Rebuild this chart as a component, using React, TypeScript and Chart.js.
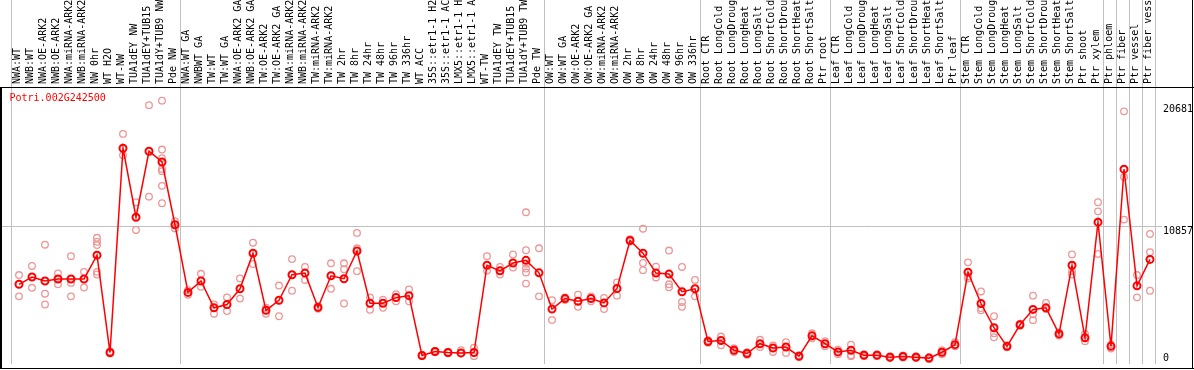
import React, { useEffect, useRef } from 'react';
import { Chart, registerables } from 'chart.js';

Chart.register(...registerables);

const GENE_ID = 'Potri.002G242500';

const categories: string[] = [
  'NWA:WT', 'NWB:WT', 'NWA:OE-ARK2', 'NWB:OE-ARK2', 'NWA:miRNA-ARK2', 'NWB:miRNA-ARK2', 'NW 0hr', 'WT H2O', 'WT-NW',
  'TUA1dEY NW', 'TUA1dEY+TUB15', 'TUA1dY+TUB9 NW', 'Pde NW',
  'NWA:WT GA', 'NWBWT GA', 'TW:WT', 'TW:WT GA', 'NWA:OE-ARK2 GA', 'NWB:OE-ARK2 GA', 'TW:OE-ARK2', 'TW:OE-ARK2 GA',
  'NWA:miRNA-ARK2', 'NWB:miRNA-ARK2', 'TW:miRNA-ARK2', 'TW:miRNA-ARK2', 'TW 2hr', 'TW 8hr', 'TW 24hr', 'TW 48hr',
  'TW 96hr', 'TW 336hr', 'WT ACC', '35S::etr1-1 H2', '35S::etr1-1 AC', 'LMX5::etr1-1 H', 'LMX5::etr1-1 A', 'WT-TW',
  'TUA1dEY TW', 'TUA1dEY+TUB15', 'TUA1dY+TUB9 TW', 'Pde TW',
  'OW:WT', 'OW:WT GA', 'OW:OE-ARK2', 'OW:OE-ARK2 GA', 'OW:miRNA-ARK2', 'OW:miRNA-ARK2', 'OW 2hr', 'OW 8hr', 'OW 24hr',
  'OW 48hr', 'OW 96hr', 'OW 336hr',
  'Root CTR', 'Root LongCold', 'Root LongDroug', 'Root LongHeat', 'Root LongSalt', 'Root ShortCold', 'Root ShortDrou',
  'Root ShortHeat', 'Root ShortSalt', 'Ptr root',
  'Leaf CTR', 'Leaf LongCold', 'Leaf LongDroug', 'Leaf LongHeat', 'Leaf LongSalt', 'Leaf ShortCold', 'Leaf ShortDrou',
  'Leaf ShortHeat', 'Leaf ShortSalt', 'Ptr leaf',
  'Stem CTR', 'Stem LongCold', 'Stem LongDroug', 'Stem LongHeat', 'Stem LongSalt', 'Stem ShortCold', 'Stem ShortDrou',
  'Stem ShortHeat', 'Stem ShortSalt', 'Ptr shoot', 'Ptr xylem', 'Ptr phloem', 'Ptr fiber', 'Ptr vessel', 'Ptr fiber vess',
];

const meanValues: number[] = [
  6260, 6830, 6522, 6676, 6676, 6676, 8547, 901, 16940, 11527, 16709, 15862, 10934,
  5621, 6522, 4412, 4674, 5906, 8701, 4212, 5005, 7007, 7138, 4443, 6930, 6699, 8878, 4774, 4774, 5213, 5367,
  670, 978, 901, 870, 901, 7754, 7315, 7931, 8139, 7161,
  4312, 5136, 4928, 5136, 4797, 5929, 9702, 8701, 7138, 7061, 5675, 5906,
  1771, 1848, 1078, 824, 1594, 1255, 1332, 616, 2210, 1594,
  947, 1078, 693, 693, 539, 593, 539, 462, 924, 1517,
  7215, 4751, 2849, 1386, 3080, 4289, 4412, 2364, 7754, 2056, 11142, 1386, 15300, 6137, 8216,
];

const replicateValues: number[][] = [
  [6984, 5313], [7700, 5983], [9371, 5521, 4674], [7107, 6260], [8470, 6368, 5313], [7238, 6006],
  [9910, 9602, 9340, 7238, 7030], [978, 824], [18072, 16401], [12705, 10526], [20328, 13144],
  [20681, 16840, 16170, 15323, 15146, 13991, 12628], [11219, 10649],
  [5798, 5444], [7084, 6060], [4674, 3950], [5236, 4158], [6722, 5136], [9525, 7854], [4412, 3950], [6160, 3750],
  [8239, 5752], [7623, 6599], [4543, 4335], [7908, 5906], [7908, 7446, 4751], [10295, 9086, 7292], [5236, 4258],
  [5059, 4412], [5490, 4928], [5852, 4928], [716, 616], [1024, 932], [947, 847], [1078, 824], [1286, 616],
  [8470, 7338], [7623, 7030], [8601, 7569], [11912, 8932, 7877, 7492, 7184, 6314], [9086, 5313],
  [5005, 3465], [5236, 5028], [5444, 4489], [5313, 4928], [5182, 4312], [6414, 5367], [9802, 9625],
  [10626, 7931, 7369], [7646, 6799], [8909, 6260, 6029], [7623, 4874, 4489], [6599, 5313],
  [1871, 1671], [2156, 1463], [1232, 947], [924, 724], [1902, 1332], [1463, 947], [1717, 870], [693, 539],
  [2410, 2025], [1794, 1394],
  [1132, 762], [1517, 693, 616], [770, 616], [770, 616], [616, 462], [670, 516], [616, 462], [539, 385],
  [1078, 770], [1717, 1386],
  [7985, 6876, 6722], [5698, 4389, 4212], [3750, 2410, 2102], [1463, 1309], [3157, 3003], [5367, 3904, 3442],
  [4797, 4312], [2487, 2233], [8601, 7292, 7030], [2364, 1794], [12705, 11989, 8647], [1540, 1209],
  [19843, 14684, 11342], [6984, 5236], [10218, 8778, 5752],
];

const yTickValues: number[] = [0, 10857, 20681];
const separatorIndices: number[] = [0, 13, 41, 53, 63, 73, 84, 85, 86, 87, 88];

const FONT = '10px "DejaVu Sans Mono", monospace';

const decorPlugin = {
  id: 'decor',
  beforeDatasetsDraw(chart: any) {
    const { ctx, chartArea } = chart;
    const xs = chart.scales.x;
    const ys = chart.scales.y;
    const p0 = xs.getPixelForValue(0);
    const w = xs.getPixelForValue(1) - p0;
    ctx.save();
    ctx.strokeStyle = '#c0c0c0';
    ctx.lineWidth = 1;
    ctx.beginPath();
    separatorIndices.forEach((i) => {
      const px = Math.round(p0 + (i - 0.5) * w - 1.5) + 0.5;
      ctx.moveTo(px, 0);
      ctx.lineTo(px, chartArea.bottom);
    });
    const my = Math.round(ys.getPixelForValue(yTickValues[1])) + 0.5;
    ctx.moveTo(0, my);
    ctx.lineTo(1162, my);
    ctx.stroke();
    ctx.restore();
  },
  afterDraw(chart: any) {
    const { ctx, chartArea, width } = chart;
    const xs = chart.scales.x;
    const ys = chart.scales.y;
    ctx.save();
    // frame
    ctx.fillStyle = '#000';
    ctx.fillRect(0, 87, width, 1);
    ctx.fillRect(0, 368, width, 1);
    ctx.fillRect(0, 87, 2, 282);
    ctx.fillRect(1192, 0, 1, 369);
    // header labels
    ctx.font = FONT;
    ctx.fillStyle = '#000';
    ctx.textAlign = 'left';
    ctx.textBaseline = 'middle';
    categories.forEach((lab, i) => {
      const px = xs.getPixelForValue(i) - 1.5;
      ctx.save();
      ctx.translate(px, 84);
      ctx.rotate(-Math.PI / 2);
      ctx.fillText(lab, 0, 0);
      ctx.restore();
    });
    // y labels
    ctx.textBaseline = 'alphabetic';
    const drops = [8, 8, 11.5];
    yTickValues.forEach((v, k) => {
      const py = ys.getPixelForValue(v);
      const base = Math.min(py + drops[k], chartArea.bottom - 3);
      ctx.fillText(String(v), 1163, base);
    });
    // gene id
    ctx.fillStyle = '#ff0000';
    ctx.fillText(GENE_ID, 9.5, 101);
    ctx.restore();
  },
};

export default function App() {
  const canvasRef = useRef<HTMLCanvasElement | null>(null);

  useEffect(() => {
    const canvas = canvasRef.current;
    if (!canvas) return;
    const repPoints = replicateValues.flatMap((reps, i) => reps.map((v) => ({ x: i, y: v })));
    const chart = new Chart(canvas, {
      type: 'line',
      data: {
        labels: categories,
        datasets: [
          {
            label: 'mean',
            data: meanValues,
            borderColor: '#ff0000',
            borderWidth: 1.5,
            pointRadius: 3.5,
            pointBorderWidth: 2,
            pointBorderColor: '#ff0000',
            pointBackgroundColor: 'rgba(0,0,0,0)',
            tension: 0,
            fill: false,
            clip: false,
          } as any,
          {
            label: 'replicates',
            data: repPoints,
            parsing: false,
            showLine: false,
            borderColor: 'rgb(238,150,150)',
            pointRadius: 3.3,
            pointBorderWidth: 1.3,
            pointBorderColor: 'rgb(238,150,150)',
            pointBackgroundColor: 'rgba(0,0,0,0)',
            fill: false,
            clip: false,
          } as any,
        ],
      },
      options: {
        responsive: false,
        animation: false,
        devicePixelRatio: 1,
        events: [],
        layout: { padding: { left: 12.5, right: 37.5, top: 87.5, bottom: 1.5 } },
        plugins: { legend: { display: false }, tooltip: { enabled: false } },
        scales: {
          x: { type: 'category', display: false, offset: true },
          y: { type: 'linear', display: false, min: 0, max: 21715 },
        },
      },
      plugins: [decorPlugin],
    });
    return () => chart.destroy();
  }, []);

  return (
    <div style={{ position: 'absolute', left: 0, top: 0, width: 1194, height: 370, background: '#fff' }}>
      <canvas ref={canvasRef} width={1194} height={370} style={{ display: 'block', width: 1194, height: 370 }} />
    </div>
  );
}
